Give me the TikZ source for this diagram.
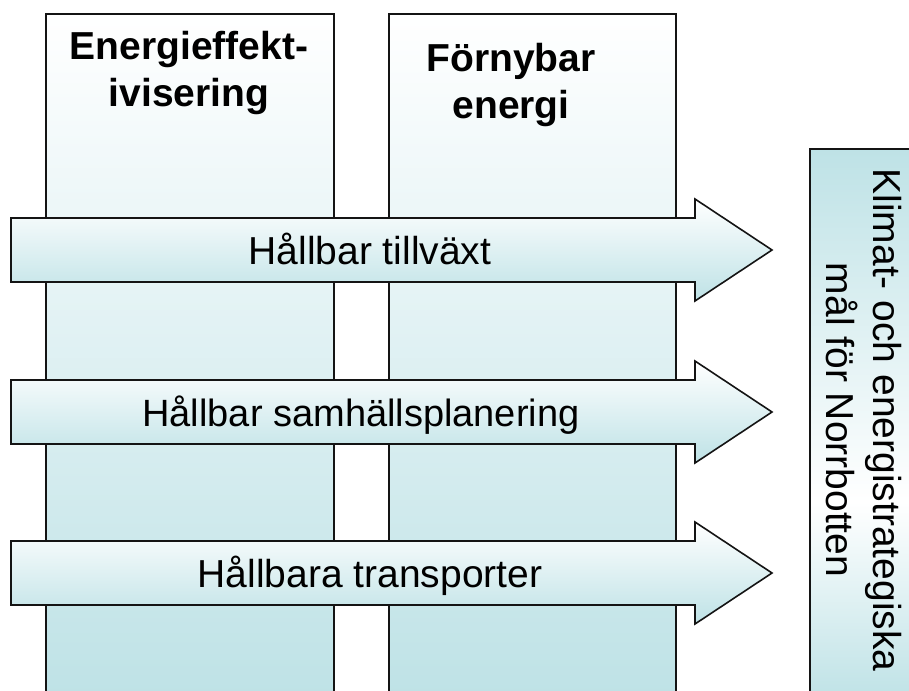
\documentclass[tikz,border=0pt]{standalone}
\usepackage{fontspec}
\setmainfont{Liberation Sans}
\definecolor{teal1}{RGB}{190,226,230}
\definecolor{edge}{RGB}{20,20,20}
\pgfdeclareverticalshading{goalshade}{100bp}{color(0bp)=(teal1); color(25bp)=(teal1); color(43bp)=(white); color(75bp)=(teal1); color(100bp)=(teal1)}
\begin{document}
\begin{tikzpicture}[x=1pt,y=-1pt,
  colbox/.style={draw=edge, line width=1.6pt, top color=white, bottom color=teal1, inner sep=0pt, anchor=north west},
  arrowshape/.style={draw=edge, line width=1.6pt, line join=miter, top color=white, bottom color=teal1},
  lbl/.style={font=\fontsize{39}{47}\selectfont, inner sep=0pt, anchor=base},
  hdr/.style={font=\fontsize{39}{47}\selectfont\bfseries, inner sep=0pt, anchor=base}]
\useasboundingbox (0,0) rectangle (909,690);
\clip (0,0) rectangle (909,690);
% columns
\node[colbox, minimum width=288pt, minimum height=687pt] (col1) at (45,13) {};
\node[colbox, minimum width=287pt, minimum height=687pt] (col2) at (388,13) {};
% goal box
\node[draw=edge, line width=1.6pt, shade, shading=goalshade, inner sep=0pt, anchor=north west,
      minimum width=111pt, minimum height=552pt] (goalbox) at (809,148) {};
% headers
\node[hdr] (h1) at (189,60) {\begin{tabular}[t]{@{}c@{}}Energieffekt-\\ivisering\end{tabular}};
\node[hdr] (h2) at (511,72) {\begin{tabular}[t]{@{}c@{}}Förnybar\\energi\end{tabular}};
% arrows
\foreach \c in {250, 412, 573}{
  \path[arrowshape] (11,\c-32) -- (695,\c-32) -- (695,\c-51) -- (772,\c) -- (695,\c+51) -- (695,\c+32) -- (11,\c+32) -- cycle;
}
\node[lbl] (t1) at (370,264) {Hållbar tillväxt};
\node[lbl, font=\fontsize{38}{46}\selectfont] (t2) at (361,426) {Hållbar samhällsplanering};
\node[lbl] (t3) at (370,587) {Hållbara transporter};
% goal text
\node[lbl, rotate=-90] (goal) at (873,420) {\begin{tabular}[t]{@{}c@{}}Klimat- och energistrategiska\\mål för Norrbotten\end{tabular}};
\end{tikzpicture}
\end{document}
